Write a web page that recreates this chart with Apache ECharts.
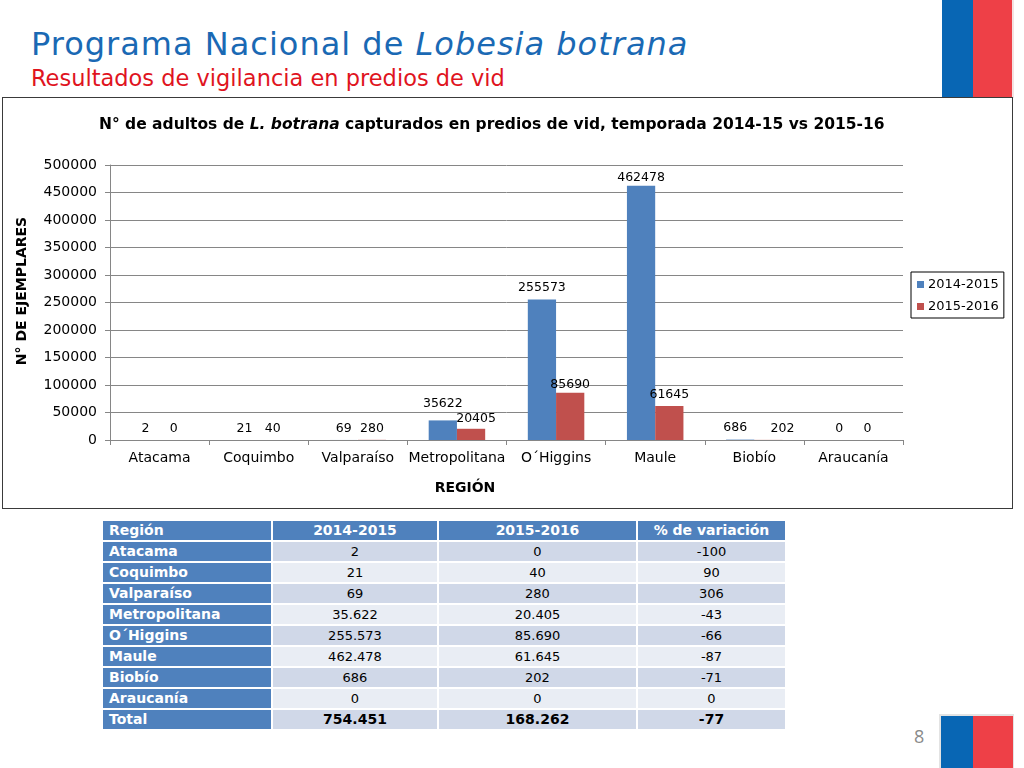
<!DOCTYPE html>
<html>
<head>
<meta charset="utf-8">
<script src="https://cdn.jsdelivr.net/npm/echarts@6/dist/echarts.min.js"></script>
<style>
  html, body { margin:0; padding:0; width:1024px; height:768px; overflow:hidden; background:#fff; font-family:"DejaVu Sans", sans-serif; }
  .abs { position:absolute; }
  #title { left:31px; top:28px; font-size:32px; letter-spacing:1px; line-height:32px; color:#1A69B4; white-space:nowrap; }
  #subtitle { left:31px; top:67px; font-size:22.5px; line-height:22.5px; color:#E0141E; white-space:nowrap; }
  #box { left:2px; top:97px; width:1011px; height:412px; box-sizing:border-box; border:1px solid #3a3a3a; }
  #chart { left:0; top:0; width:1024px; height:515px; }
  table { position:absolute; left:101px; top:519px; border-collapse:separate; border-spacing:2px; table-layout:fixed; font-family:"DejaVu Sans", sans-serif; }
  td { padding:0; height:19px; line-height:19px; font-size:13px; text-align:center; color:#000; white-space:nowrap; overflow:hidden; }
  td.h { background:#4F81BD; color:#fff; font-weight:bold; font-size:14px; }
  td.r { background:#4F81BD; color:#fff; font-weight:bold; font-size:14px; text-align:left; text-indent:6px; }
  tr.odd td.v { background:#D0D8E8; }
  tr.even td.v { background:#E9EDF4; }
  td.b { font-weight:bold; font-size:14px; }
  #pnum { left:914px; top:724px; font-size:18px; color:#8a8a8a; font-family:"Open Sans", sans-serif; }
</style>
</head>
<body>
<div class="abs" style="left:942px;top:0;width:72px;height:98px;background:#f4e2e2;"></div>
<div class="abs" style="left:942px;top:0;width:31px;height:97px;background:#0866B4;"></div>
<div class="abs" style="left:973px;top:0;width:39px;height:97px;background:#EE4047;"></div>

<div id="title" class="abs">Programa Nacional de <i>Lobesia botrana</i></div>
<div id="subtitle" class="abs">Resultados de vigilancia en predios de vid</div>
<div id="box" class="abs"></div>
<div id="chart" class="abs"></div>

<table id="tbl">
  <colgroup><col style="width:168px"><col style="width:164px"><col style="width:197px"><col style="width:147px"></colgroup>
  <tbody id="tbody"></tbody>
</table>

<div class="abs" style="left:939px;top:714px;width:75px;height:54px;background:#e3e3e3;"></div>
<div class="abs" style="left:941px;top:716px;width:32px;height:52px;background:#0866B4;"></div>
<div class="abs" style="left:973px;top:716px;width:40px;height:52px;background:#EE4047;"></div>
<div id="pnum" class="abs">8</div>

<script>
// ---- data ----
const categories = ['Atacama', 'Coquimbo', 'Valparaíso', 'Metropolitana', 'O´Higgins', 'Maule', 'Biobío', 'Araucanía'];
const seriesNames = ['2014-2015', '2015-2016'];
const season1415 = [2, 21, 69, 35622, 255573, 462478, 686, 0];
const season1516 = [0, 40, 280, 20405, 85690, 61645, 202, 0];
const variation = [-100, 90, 306, -43, -66, -87, -71, 0];
const totalRow = ['Total', 754451, 168262, -77];
const tableHeader = ['Región', '2014-2015', '2015-2016', '% de variación'];
const yAxisName = 'N° DE EJEMPLARES';
const xAxisName = 'REGIÓN';

// ---- table ----
function fmt(n) { return String(n).replace(/\B(?=(\d{3})+(?!\d))/g, '.'); }
const tb = document.getElementById('tbody');
let html = '<tr>' + tableHeader.map((h, i) => '<td class="' + (i === 0 ? 'r' : 'h') + '">' + h + '</td>').join('') + '</tr>';
categories.forEach((c, i) => {
  html += '<tr class="' + (i % 2 === 0 ? 'odd' : 'even') + '"><td class="r">' + c + '</td><td class="v">' + fmt(season1415[i]) +
    '</td><td class="v">' + fmt(season1516[i]) + '</td><td class="v">' + variation[i] + '</td></tr>';
});
html += '<tr class="odd"><td class="r">' + totalRow[0] + '</td>' + totalRow.slice(1).map(v => '<td class="v b">' + fmt(v) + '</td>').join('') + '</tr>';
tb.innerHTML = html;

// ---- chart ----
const labelOffsets = [{ 3: [0, -5], 5: [0, 4], 6: [-5, 0] }, { 3: [5, 1], 4: [0, 3], 6: [14, 0] }];
function buildData(values, si) {
  return values.map((v, i) => {
    const off = labelOffsets[si][i];
    return off ? { value: v, label: { offset: off } } : v;
  });
}
const chart = echarts.init(document.getElementById('chart'), null, { renderer: 'canvas' });
const font = 'DejaVu Sans';
chart.setOption({
  animation: false,
  textStyle: { fontFamily: font },
  title: {
    left: 94, top: 112,
    text: '{b|N° de adultos de }{bi|L. botrana}{b| capturados en predios de vid, temporada 2014-15 vs 2015-16}',
    textStyle: {
      rich: {
        b: { fontFamily: font, fontWeight: 'bold', fontSize: 15.5, color: '#000' },
        bi: { fontFamily: font, fontWeight: 'bold', fontStyle: 'italic', fontSize: 15.5, color: '#000' }
      }
    }
  },
  legend: {
    orient: 'vertical', left: 911, top: 272,
    data: seriesNames,
    icon: 'rect', itemWidth: 7, itemHeight: 7, itemGap: 9,
    borderColor: '#000', borderWidth: 1, padding: [6, 5, 5, 6],
    textStyle: { fontFamily: font, fontSize: 13, color: '#000', padding: [0, 0, 0, -1] }
  },
  grid: { left: 110, top: 165, width: 793, height: 275, containLabel: false },
  xAxis: {
    type: 'category', data: categories,
    axisLine: { lineStyle: { color: '#868686', width: 1 } },
    axisTick: { show: true, length: 5, lineStyle: { color: '#868686' } },
    axisLabel: { color: '#000', fontSize: 14, margin: 11, interval: 0, fontFamily: font }
  },
  yAxis: {
    type: 'value', min: 0, max: 500000, interval: 50000,
    axisLine: { show: true, lineStyle: { color: '#868686', width: 1 } },
    axisTick: { show: true, length: 5, lineStyle: { color: '#868686' } },
    axisLabel: { color: '#000', fontSize: 14, margin: 13, fontFamily: font, formatter: v => String(v) },
    splitLine: { lineStyle: { color: '#868686', width: 1 } }
  },
  graphic: [
    { type: 'text', x: 22.5, y: 291, rotation: Math.PI / 2,
      style: { text: yAxisName, fontFamily: font, fontWeight: 'bold', fontSize: 14, fill: '#000', align: 'center', verticalAlign: 'middle' } },
    { type: 'text', x: 465, y: 488,
      style: { text: xAxisName, fontFamily: font, fontWeight: 'bold', fontSize: 14, fill: '#000', align: 'center', verticalAlign: 'middle' } }
  ],
  series: [
    { name: seriesNames[0], type: 'bar', data: buildData(season1415, 0), barGap: '0%', barCategoryGap: '43%',
      itemStyle: { color: '#4F81BD' },
      label: { show: true, position: 'top', distance: 5, color: '#000', fontSize: 12.5, fontFamily: font, formatter: p => String(p.value) } },
    { name: seriesNames[1], type: 'bar', data: buildData(season1516, 1), barGap: '0%', barCategoryGap: '43%',
      itemStyle: { color: '#C0504D' },
      label: { show: true, position: 'top', distance: 5, color: '#000', fontSize: 12.5, fontFamily: font, formatter: p => String(p.value) } }
  ]
});
</script>
</body>
</html>
